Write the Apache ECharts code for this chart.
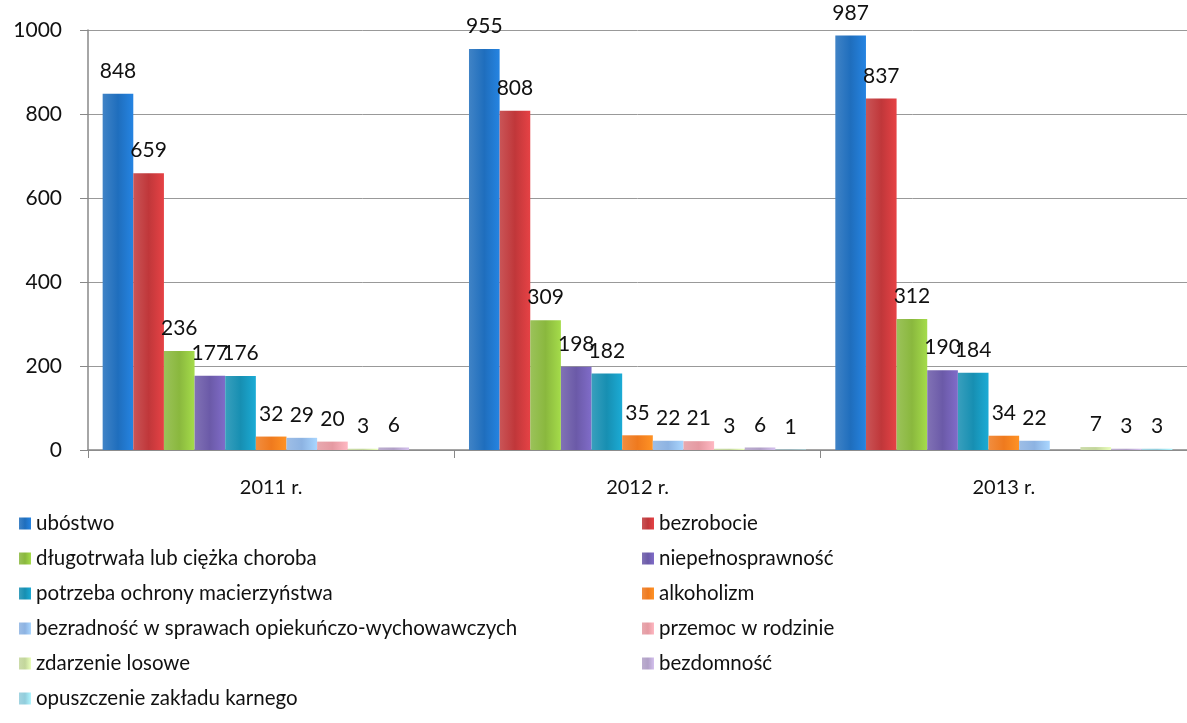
<!DOCTYPE html>
<html>
<head>
<meta charset="utf-8">
<script src="https://cdn.jsdelivr.net/npm/echarts@6/dist/echarts.min.js"></script>
<style>
  html, body { margin: 0; padding: 0; background: #fff; }
  #main { width: 1187px; height: 723px; }
</style>
</head>
<body>
<div id="main"></div>
<script>
var years = ["2011 r.", "2012 r.", "2013 r."];
var seriesNames = [
  "ubóstwo",
  "bezrobocie",
  "długotrwała lub ciężka choroba",
  "niepełnosprawność",
  "potrzeba ochrony macierzyństwa",
  "alkoholizm",
  "bezradność w sprawach opiekuńczo-wychowawczych",
  "przemoc w rodzinie",
  "zdarzenie losowe",
  "bezdomność",
  "opuszczenie zakładu karnego"
];
var ubostwo = [848, 955, 987];
var bezrobocie = [659, 808, 837];
var choroba = [236, 309, 312];
var niepelnosprawnosc = [177, 198, 190];
var macierzynstwo = [176, 182, 184];
var alkoholizm = [32, 35, 34];
var bezradnosc = [29, 22, 22];
var przemoc = [20, 21, null];
var zdarzenie = [3, 3, 7];
var bezdomnosc = [6, 6, 3];
var opuszczenie = [null, 1, 3];
var yTicks = [0, 200, 400, 600, 800, 1000];

var values = [ubostwo, bezrobocie, choroba, niepelnosprawnosc, macierzynstwo,
  alkoholizm, bezradnosc, przemoc, zdarzenie, bezdomnosc, opuszczenie];
var colors = ["#1f6ebd", "#c0373a", "#8ab83e", "#6b5aa8", "#178fb2", "#ef7a1e",
  "#8db3e2", "#e59aa2", "#c3d69b", "#b1a0c7", "#92cddc"];

var font = "Lato, 'Open Sans', sans-serif";

function grad(c) {
  return new echarts.graphic.LinearGradient(0, 0, 1, 0, [
    { offset: 0, color: echarts.color.lift(c, 0.15) },
    { offset: 0.5, color: c },
    { offset: 1, color: echarts.color.lift(c, -0.2) }
  ]);
}

var series = seriesNames.map(function (name, i) {
  return {
    name: name,
    type: "bar",
    barGap: "0%",
    barCategoryGap: "8%",
    data: values[i].map(function (v) { return v === null ? "-" : v; }),
    itemStyle: { color: grad(colors[i]) },
    label: {
      show: true,
      position: "top",
      distance: 12,
      color: "#111",
      fontSize: 21,
      fontFamily: font
    }
  };
});

var leftNames = seriesNames.filter(function (n, i) { return i % 2 === 0; });
var rightNames = seriesNames.filter(function (n, i) { return i % 2 === 1; });

var legendBase = {
  orient: "vertical",
  top: 508,
  itemGap: 14,
  itemWidth: 12,
  itemHeight: 12,
  icon: "rect",
  textStyle: { fontSize: 20.5, color: "#111", fontFamily: font }
};

var chart = echarts.init(document.getElementById("main"));
chart.setOption({
  color: colors,
  animation: false,
  grid: { left: 88, right: -2, top: 30, bottom: 273 },
  legend: [
    Object.assign({ left: 14, data: leftNames }, legendBase),
    Object.assign({ left: 637, data: rightNames }, legendBase)
  ],
  xAxis: {
    type: "category",
    data: years,
    axisLine: { lineStyle: { color: "#888", width: 1.5 } },
    axisTick: { show: true, length: 8, lineStyle: { color: "#888" } },
    axisLabel: { fontSize: 20, color: "#111", fontFamily: font, margin: 28 }
  },
  yAxis: {
    type: "value",
    min: yTicks[0],
    max: yTicks[yTicks.length - 1],
    interval: 200,
    axisLine: { show: true, lineStyle: { color: "#888", width: 1.5 } },
    axisTick: { show: true, length: 8, lineStyle: { color: "#888" } },
    splitLine: { lineStyle: { color: "#999", width: 1 } },
    axisLabel: {
      fontSize: 21, color: "#111", fontFamily: font, margin: 26,
      formatter: function (v) { return String(v); }
    }
  },
  series: series
});
</script>
</body>
</html>
